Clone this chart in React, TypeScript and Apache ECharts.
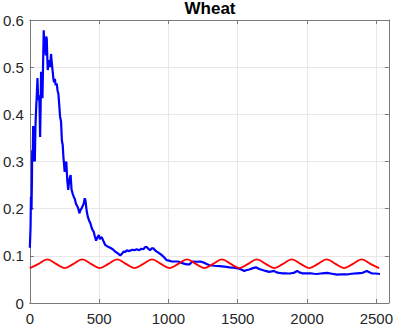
import React, { useEffect, useRef } from "react";
import * as echarts from "echarts";

const titleText = "Wheat";
const xTicks = [0, 500, 1000, 1500, 2000, 2500];
const yTicks = [0, 0.1, 0.2, 0.3, 0.4, 0.5, 0.6];

const blueSeries: [number, number][] = [
  [0, 0.117], [5, 0.16], [8, 0.225], [12, 0.197], [15, 0.26], [17, 0.324], [20, 0.3],
  [24, 0.375], [28, 0.32], [33, 0.345], [36, 0.3], [40, 0.37], [45, 0.41], [50, 0.44],
  [55, 0.477], [60, 0.43], [65, 0.44], [69, 0.433], [74, 0.352], [78, 0.42], [81, 0.49],
  [86, 0.46], [91, 0.434], [95, 0.5], [100, 0.578], [104, 0.55], [110, 0.549], [115, 0.525],
  [118, 0.565], [122, 0.56], [126, 0.52], [129, 0.494], [134, 0.505], [141, 0.515],
  [146, 0.5], [153, 0.528], [158, 0.51], [165, 0.49], [170, 0.475], [175, 0.468],
  [181, 0.475], [186, 0.462], [194, 0.465], [200, 0.45], [206, 0.443], [212, 0.42],
  [218, 0.395], [225, 0.385], [231, 0.345], [237, 0.335], [242, 0.31], [246, 0.297],
  [251, 0.278], [257, 0.292], [263, 0.3], [270, 0.26], [277, 0.24], [283, 0.258],
  [288, 0.265], [294, 0.271], [301, 0.24], [309, 0.232], [317, 0.225], [325, 0.22],
  [333, 0.21], [341, 0.206], [350, 0.2], [357, 0.19], [365, 0.197], [372, 0.2],
  [380, 0.205], [389, 0.211], [396, 0.222], [401, 0.218], [410, 0.195], [418, 0.183],
  [427, 0.175], [437, 0.169], [445, 0.16], [452, 0.155], [461, 0.151], [470, 0.14],
  [478, 0.132], [485, 0.138], [491, 0.141], [497, 0.144], [505, 0.135], [513, 0.14],
  [521, 0.138], [530, 0.132], [544, 0.123], [560, 0.12], [580, 0.117], [598, 0.114],
  [616, 0.109], [635, 0.105], [652, 0.101], [664, 0.104], [676, 0.109], [688, 0.108],
  [700, 0.112], [712, 0.11], [723, 0.111], [740, 0.113], [755, 0.112], [771, 0.114],
  [790, 0.112], [805, 0.115], [819, 0.114], [830, 0.118], [843, 0.119], [855, 0.115],
  [867, 0.112], [880, 0.116], [891, 0.116], [903, 0.112], [915, 0.109], [932, 0.106],
  [950, 0.102], [968, 0.097], [986, 0.091], [1004, 0.09], [1022, 0.088], [1045, 0.088],
  [1070, 0.088], [1095, 0.085], [1117, 0.083], [1135, 0.082], [1153, 0.082], [1165, 0.086],
  [1177, 0.088], [1201, 0.0875], [1230, 0.088], [1261, 0.085], [1280, 0.082], [1297, 0.08],
  [1330, 0.079], [1368, 0.078], [1405, 0.077], [1440, 0.0756], [1470, 0.075], [1500, 0.0735],
  [1525, 0.071], [1547, 0.068], [1565, 0.07], [1583, 0.071], [1610, 0.074], [1631, 0.0756],
  [1655, 0.072], [1678, 0.07], [1700, 0.068], [1726, 0.066], [1745, 0.067], [1762, 0.068],
  [1780, 0.065], [1798, 0.064], [1820, 0.063], [1846, 0.063], [1865, 0.0625], [1882, 0.063],
  [1905, 0.064], [1929, 0.068], [1945, 0.065], [1965, 0.063], [1995, 0.063], [2025, 0.063],
  [2050, 0.062], [2073, 0.0615], [2110, 0.063], [2144, 0.064], [2180, 0.062], [2216, 0.06],
  [2250, 0.061], [2287, 0.0605], [2320, 0.062], [2359, 0.063], [2400, 0.064], [2431, 0.068],
  [2450, 0.065], [2466, 0.063], [2495, 0.0625], [2526, 0.0615],
];

const redSeries: [number, number][] = [
  [0, 0.074], [63, 0.083], [126, 0.0925], [189, 0.083], [252, 0.074], [315, 0.083],
  [378, 0.0925], [441, 0.083], [504, 0.074], [567, 0.083], [630, 0.0925], [693, 0.083],
  [756, 0.074], [819, 0.083], [882, 0.0925], [945, 0.083], [1008, 0.074], [1071, 0.083],
  [1134, 0.0925], [1197, 0.083], [1260, 0.074], [1323, 0.083], [1386, 0.0925], [1449, 0.083],
  [1512, 0.074], [1575, 0.083], [1638, 0.0925], [1701, 0.083], [1764, 0.074], [1827, 0.083],
  [1890, 0.0925], [1953, 0.083], [2016, 0.074], [2079, 0.083], [2142, 0.0925], [2205, 0.083],
  [2268, 0.074], [2331, 0.083], [2394, 0.0925], [2457, 0.083], [2520, 0.074],
];

const X_MAX = 2590;
const FONT = "'Liberation Sans', Arial, Helvetica, sans-serif";
const AXIS_COLOR = "#7a7a7a";
const LABEL_COLOR = "#262626";
const GRID_COLOR = "#e8e8e8";

export default function App() {
  const ref = useRef<HTMLDivElement>(null);
  useEffect(() => {
    if (!ref.current) return;
    const chart = echarts.init(ref.current, undefined, { renderer: "svg" });
    const xLabel = (v: number) => (xTicks.includes(v) ? String(v) : "");
    const yLabel = (v: number) => {
      const r = Math.round(v * 10) / 10;
      return yTicks.some((t) => Math.abs(t - v) < 1e-9) ? String(r) : "";
    };
    chart.setOption({
      animation: false,
      graphic: [
        {
          type: "text",
          x: 210,
          y: 0,
          style: {
            text: titleText,
            textAlign: "center",
            textVerticalAlign: "top",
            fontFamily: FONT,
            fontWeight: "bold",
            fontSize: 17,
            fill: "#000",
          },
        },
      ],
      grid: { left: 29, right: 6, top: 20, bottom: 24, containLabel: false },
      xAxis: [
        {
          type: "value",
          min: 0,
          max: X_MAX,
          interval: 500,
          axisLine: { show: true, onZero: false, lineStyle: { color: AXIS_COLOR, width: 1 } },
          axisTick: { show: true, inside: true, length: 4, lineStyle: { color: AXIS_COLOR } },
          axisLabel: {
            show: true,
            margin: 8,
            fontSize: 15,
            fontFamily: FONT,
            color: LABEL_COLOR,
            formatter: xLabel,
            showMaxLabel: false,
          },
          splitLine: { show: true, lineStyle: { color: GRID_COLOR, width: 1 } },
        },
        {
          type: "value",
          position: "top",
          min: 0,
          max: X_MAX,
          interval: 500,
          axisLine: { show: true, onZero: false, lineStyle: { color: AXIS_COLOR, width: 1 } },
          axisTick: { show: true, inside: true, length: 4, lineStyle: { color: AXIS_COLOR } },
          axisLabel: { show: false },
          splitLine: { show: false },
        },
      ],
      yAxis: [
        {
          type: "value",
          min: 0,
          max: 0.6,
          interval: 0.1,
          axisLine: { show: true, onZero: false, lineStyle: { color: AXIS_COLOR, width: 1 } },
          axisTick: { show: true, inside: true, length: 4, lineStyle: { color: AXIS_COLOR } },
          axisLabel: {
            show: true,
            margin: 6,
            fontSize: 15,
            fontFamily: FONT,
            color: LABEL_COLOR,
            formatter: yLabel,
          },
          splitLine: { show: true, lineStyle: { color: GRID_COLOR, width: 1 } },
        },
        {
          type: "value",
          position: "right",
          min: 0,
          max: 0.6,
          interval: 0.1,
          axisLine: { show: true, onZero: false, lineStyle: { color: AXIS_COLOR, width: 1 } },
          axisTick: { show: true, inside: true, length: 4, lineStyle: { color: AXIS_COLOR } },
          axisLabel: { show: false },
          splitLine: { show: false },
        },
      ],
      series: [
        {
          type: "line",
          data: blueSeries,
          showSymbol: false,
          symbol: "none",
          lineStyle: { color: "#0000ff", width: 2.2 },
          itemStyle: { color: "#0000ff" },
          z: 3,
        },
        {
          type: "line",
          data: redSeries,
          showSymbol: false,
          symbol: "none",
          smooth: 0.4,
          lineStyle: { color: "#ff0000", width: 1.8 },
          itemStyle: { color: "#ff0000" },
          z: 4,
        },
      ],
    });
    return () => chart.dispose();
  }, []);
  return (
    <div
      ref={ref}
      style={{ position: "absolute", left: 0, top: 0, width: 396, height: 327 }}
    />
  );
}
